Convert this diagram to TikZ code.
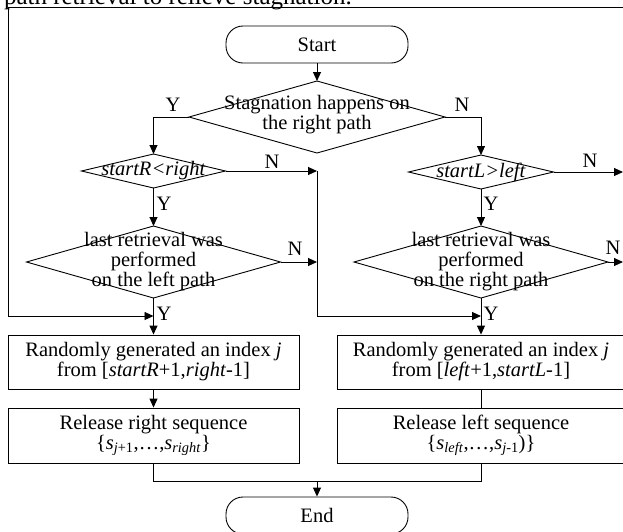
\documentclass[tikz,border=0pt]{standalone}
\usepackage{fontspec}
\setmainfont{Liberation Serif}
\usetikzlibrary{arrows.meta,shapes.geometric}
\tikzset{
  base/.style={font=\fontsize{20.5pt}{20pt}\selectfont},
  ln/.style={line width=0.9pt, draw=black},
  arr/.style={ln, -{Triangle[length=9pt,width=8pt]}},
  term/.style={base, ln, rounded corners=17pt, minimum width=182pt, minimum height=37pt, inner sep=0pt},
  dia/.style={ln, diamond, inner sep=0pt, outer sep=0pt},
  dtext/.style={base, align=center, inner sep=0pt},
  proc/.style={base, ln, rectangle, align=center, inner sep=0pt, minimum height=54pt},
  yn/.style={base, inner sep=0pt},
}
\begin{document}
\begin{tikzpicture}[x=1pt,y=-1pt]
\useasboundingbox (0,0) rectangle (623,531);
\clip (0,0) rectangle (623,531);
\node[anchor=base east, font=\fontsize{25pt}{25pt}\selectfont, inner sep=0pt] (cap) at (352,4) {path retrieval to relieve stagnation.};
\coordinate (tl) at (8,7);
\coordinate (tr) at (626,7);
\draw[ln] (tl) -- (tr);

\node[term] (start) at (317,44.5) {Start};
\node[dia, minimum width=256pt, minimum height=72pt] (d1) at (317,117) {};
\node[dtext, yshift=2pt] (d1t) at (d1) {Stagnation happens on\\the right path};
\node[dia, minimum width=144pt, minimum height=34pt] (d2) at (153.5,171) {};
\node[dtext] (d2t) at (d2) {\textit{startR<right}};
\node[dia, minimum width=145pt, minimum height=34pt] (d3) at (481,172) {};
\node[dtext] (d3t) at (d3) {\textit{startL>left}};
\node[dia, minimum width=254pt, minimum height=72pt] (d4) at (153.5,262) {};
\node[dtext] (d4t) at (d4) {last retrieval was\\performed\\on the left path};
\node[dia, minimum width=254pt, minimum height=72pt] (d5) at (481,262) {};
\node[dtext] (d5t) at (d5) {last retrieval was\\performed\\on the right path};
\node[proc, minimum width=291pt] (r1) at (153.5,362) {Randomly generated an index \textit{j}\\from [\textit{startR}+1,\textit{right}-1]};
\node[proc, minimum width=288pt] (r2) at (481,362) {Randomly generated an index \textit{j}\\from [\textit{left}+1,\textit{startL}-1]};
\node[proc, minimum width=291pt, minimum height=55pt] (s1) at (153.5,435.5) {Release right sequence\\\{\textit{s}\textsubscript{\textit{j}+1},…,\textit{s}\textsubscript{\textit{right}}\}};
\node[proc, minimum width=288pt, minimum height=55pt] (s2) at (481,435.5) {Release left sequence\\\{\textit{s}\textsubscript{\textit{left}},…,\textit{s}\textsubscript{\textit{j}-1})\}};
\node[term] (end) at (317,515.5) {End};

\coordinate (c1) at (317,171);
\coordinate (c2) at (317,262);
\coordinate (jL) at (153.5,316);
\coordinate (jR) at (481,316);
\coordinate (o3) at (623,172);
\coordinate (o5) at (623,262);
\coordinate (mid) at (317,481);

\draw[arr] (start.south) -- (d1.north);
\draw[arr] (d1.west) -| (d2.north);
\draw[arr] (d1.east) -| (d3.north);
\draw[arr] (d2.east) -- (c1);
\draw[arr] (d2.south) -- (d4.north);
\draw[arr] (d4.east) -- (c2);
\draw[arr] (c1) |- (jR);
\draw[arr] (tl) |- (jL);
\draw[arr] (d4.south) -- (r1.north);
\draw[arr] (d3.east) -- (o3);
\draw[arr] (d3.south) -- (d5.north);
\draw[arr] (d5.east) -- (o5);
\draw[arr] (d5.south) -- (r2.north);
\draw[arr] (r1.south) -- (s1.north);
\draw[ln] (r2.south) -- (s2.north);
\draw[ln] (s1.south) |- (mid) -| (s2.south);
\draw[arr] (mid) -- (end.north);

\node[yn] (y1) at (173,105) {Y};
\node[yn] (n1) at (462,105) {N};
\node[yn] (n2) at (272,162) {N};
\node[yn] (y2) at (164,204) {Y};
\node[yn] (n4) at (295,249) {N};
\node[yn] (y4) at (164,314) {Y};
\node[yn] (n3) at (590,161) {N};
\node[yn] (y3) at (491,204) {Y};
\node[yn] (n5) at (613,248) {N};
\node[yn] (y5) at (491,314) {Y};
\end{tikzpicture}
\end{document}
